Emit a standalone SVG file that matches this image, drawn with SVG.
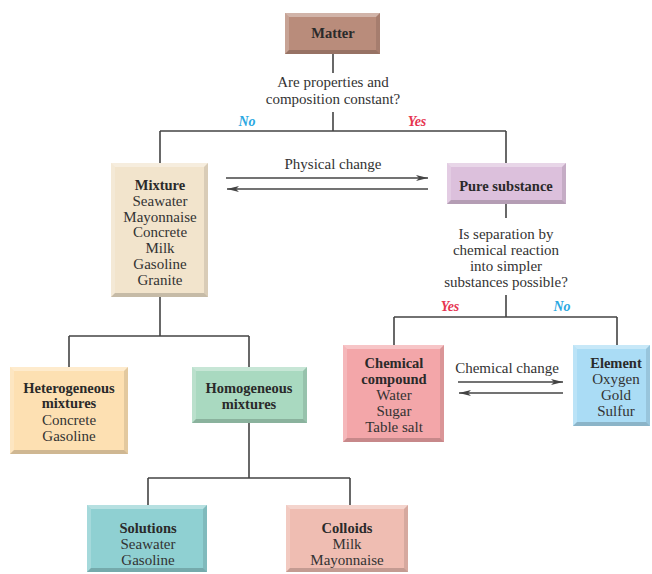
<svg xmlns="http://www.w3.org/2000/svg" width="652" height="574" viewBox="0 0 652 574">
<style>
text{font-family:"Liberation Serif","Times New Roman",serif;font-size:15px;fill:#333;text-anchor:middle}
.b{font-weight:bold;fill:#2a2a2a;font-size:14.5px}
.no{font-weight:bold;font-style:italic;fill:#2aa8e2;font-size:14px}
.yes{font-weight:bold;font-style:italic;fill:#e6344f;font-size:14px}
.hl{fill:#fff;opacity:.35}
.hl2{fill:#fff;opacity:.2}
.sh{fill:#000;opacity:.18}
.sh2{fill:#000;opacity:.1}
.ln{stroke:#444;stroke-width:1.6;fill:none}
</style>
<defs>
<marker id="ah" viewBox="0 0 12 6" refX="12" refY="3" markerWidth="12" markerHeight="6" markerUnits="userSpaceOnUse" orient="auto">
<path d="M0,0 L12,3 L0,6 L3,3 Z" fill="#444"/>
</marker>
</defs>
<rect width="652" height="574" fill="#fff"/>

<g id="connectors">
<path class="ln" d="M333,54 V73 M333,112 V131 M160,131 H506 M160,131 V163 M506,131 V163"/>
<path class="ln" d="M506,204 V218 M506,295 V317 M394,317 H617 M394,317 V345 M617,317 V345"/>
<path class="ln" d="M160,297 V336 M69,336 H249 M69,336 V367 M249,336 V367"/>
<path class="ln" d="M249,423 V478 M148,478 H350 M148,478 V505 M350,478 V505"/>
<line class="ln" x1="226" y1="178" x2="428" y2="178" marker-end="url(#ah)"/>
<line class="ln" x1="428" y1="189" x2="227" y2="189" marker-end="url(#ah)"/>
<line class="ln" x1="458" y1="382" x2="563" y2="382" marker-end="url(#ah)"/>
<line class="ln" x1="563" y1="393" x2="459" y2="393" marker-end="url(#ah)"/>
<text x="333" y="87">Are properties and</text>
<text x="333" y="104">composition constant?</text>
<text class="no" x="247" y="126">No</text>
<text class="yes" x="417" y="126">Yes</text>
<text x="333" y="169">Physical change</text>
<text x="506" y="239">Is separation by</text>
<text x="506" y="255">chemical reaction</text>
<text x="506" y="271">into simpler</text>
<text x="506" y="287">substances possible?</text>
<text class="yes" x="450" y="311">Yes</text>
<text class="no" x="562" y="311">No</text>
<text x="507" y="373">Chemical change</text>
</g>

<g id="matter">
<rect x="285" y="13" width="95" height="41" fill="#b98c7b"/>
<polygon class="hl" points="285,13 380,13 376,17 289,17"/>
<polygon class="hl2" points="285,13 289,17 289,50 285,54"/>
<polygon class="sh" points="285,54 289,50 376,50 380,54"/>
<polygon class="sh2" points="380,13 380,54 376,50 376,17"/>
<text class="b" x="333" y="38">Matter</text>
</g>

<g id="mixture">
<rect x="111" y="163" width="97" height="134" fill="#f2e4cc"/>
<polygon class="hl" points="111,163 208,163 204,167 115,167"/>
<polygon class="hl2" points="111,163 115,167 115,293 111,297"/>
<polygon class="sh" points="111,297 115,293 204,293 208,297"/>
<polygon class="sh2" points="208,163 208,297 204,293 204,167"/>
<text class="b" x="160" y="190">Mixture</text>
<text x="160" y="206">Seawater</text>
<text x="160" y="222">Mayonnaise</text>
<text x="160" y="237">Concrete</text>
<text x="160" y="253">Milk</text>
<text x="160" y="269">Gasoline</text>
<text x="160" y="285">Granite</text>
</g>

<g id="pure">
<rect x="447" y="163" width="119" height="41" fill="#dcc0dc"/>
<polygon class="hl" points="447,163 566,163 562,167 451,167"/>
<polygon class="hl2" points="447,163 451,167 451,200 447,204"/>
<polygon class="sh" points="447,204 451,200 562,200 566,204"/>
<polygon class="sh2" points="566,163 566,204 562,200 562,167"/>
<text class="b" x="506" y="191">Pure substance</text>
</g>

<g id="heterogeneous">
<rect x="10" y="367" width="118" height="87" fill="#fde0b2"/>
<polygon class="hl" points="10,367 128,367 124,371 14,371"/>
<polygon class="hl2" points="10,367 14,371 14,450 10,454"/>
<polygon class="sh" points="10,454 14,450 124,450 128,454"/>
<polygon class="sh2" points="128,367 128,454 124,450 124,371"/>
<text class="b" x="69" y="393">Heterogeneous</text>
<text class="b" x="69" y="408">mixtures</text>
<text x="69" y="425">Concrete</text>
<text x="69" y="441">Gasoline</text>
</g>

<g id="homogeneous">
<rect x="192" y="367" width="115" height="56" fill="#a9d9c0"/>
<polygon class="hl" points="192,367 307,367 303,371 196,371"/>
<polygon class="hl2" points="192,367 196,371 196,419 192,423"/>
<polygon class="sh" points="192,423 196,419 303,419 307,423"/>
<polygon class="sh2" points="307,367 307,423 303,419 303,371"/>
<text class="b" x="249" y="393">Homogeneous</text>
<text class="b" x="249" y="409">mixtures</text>
</g>

<g id="compound">
<rect x="343" y="345" width="101" height="97" fill="#f3a6a9"/>
<polygon class="hl" points="343,345 444,345 440,349 347,349"/>
<polygon class="hl2" points="343,345 347,349 347,438 343,442"/>
<polygon class="sh" points="343,442 347,438 440,438 444,442"/>
<polygon class="sh2" points="444,345 444,442 440,438 440,349"/>
<text class="b" x="394" y="368">Chemical</text>
<text class="b" x="394" y="384">compound</text>
<text x="394" y="400">Water</text>
<text x="394" y="416">Sugar</text>
<text x="394" y="432">Table salt</text>
</g>

<g id="element">
<rect x="573" y="345" width="77" height="81" fill="#aadcf5"/>
<polygon class="hl" points="573,345 650,345 646,349 577,349"/>
<polygon class="hl2" points="573,345 577,349 577,422 573,426"/>
<polygon class="sh" points="573,426 577,422 646,422 650,426"/>
<polygon class="sh2" points="650,345 650,426 646,422 646,349"/>
<text class="b" x="616" y="368">Element</text>
<text x="616" y="384">Oxygen</text>
<text x="616" y="400">Gold</text>
<text x="616" y="416">Sulfur</text>
</g>

<g id="solutions">
<rect x="87" y="505" width="120" height="67" fill="#8fd0d2"/>
<polygon class="hl" points="87,505 207,505 203,509 91,509"/>
<polygon class="hl2" points="87,505 91,509 91,568 87,572"/>
<polygon class="sh" points="87,572 91,568 203,568 207,572"/>
<polygon class="sh2" points="207,505 207,572 203,568 203,509"/>
<text class="b" x="148" y="533">Solutions</text>
<text x="148" y="549">Seawater</text>
<text x="148" y="565">Gasoline</text>
</g>

<g id="colloids">
<rect x="286" y="505" width="122" height="67" fill="#efbdb2"/>
<polygon class="hl" points="286,505 408,505 404,509 290,509"/>
<polygon class="hl2" points="286,505 290,509 290,568 286,572"/>
<polygon class="sh" points="286,572 290,568 404,568 408,572"/>
<polygon class="sh2" points="408,505 408,572 404,568 404,509"/>
<text class="b" x="347" y="533">Colloids</text>
<text x="347" y="549">Milk</text>
<text x="347" y="565">Mayonnaise</text>
</g>
</svg>
